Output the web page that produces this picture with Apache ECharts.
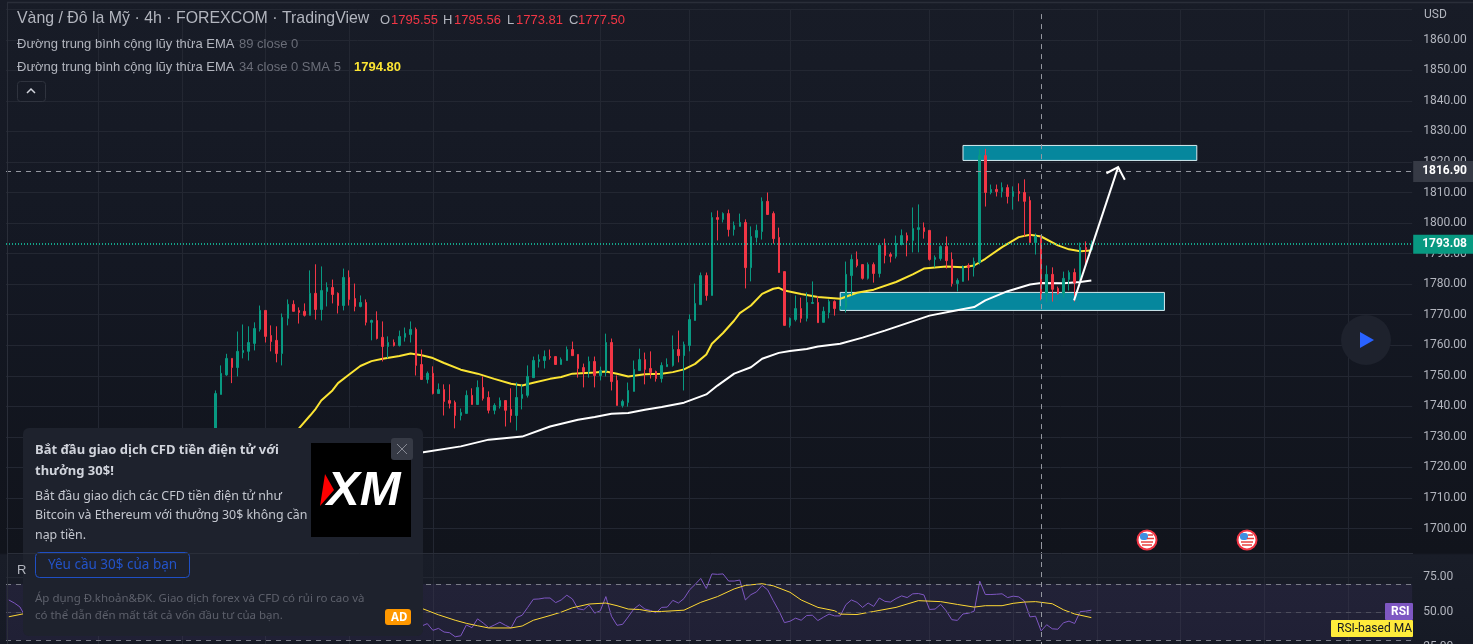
<!DOCTYPE html>
<html>
<head>
<meta charset="utf-8">
<title>Vàng / Đô la Mỹ</title>
<script src="https://cdn.jsdelivr.net/npm/echarts@6/dist/echarts.min.js"></script>
<style>
    html, body { margin: 0; padding: 0; overflow: hidden; }
    body { background: linear-gradient(180deg, #181c27 0, #141823 260px, #11141c 553px, #191d28 555px, #161a25 644px); }
    #chart { width: 1473px; height: 644px; }
</style>
</head>
<body>
<div id="chart"></div>
<script>
// bars hidden behind the ad popup, then one row per visible candle
const LEAD = 37;
const BAR_COUNT = 252;

// open, close, low, high
const candles = [
    [1732.1,1744.2,1727.0,1745.2],[1743.9,1750.8,1743.9,1753.4],[1750.3,1755.7,1750.0,1757.2],[1755.7,1752.7,1747.6,1755.7],
    [1752.7,1758.0,1749.8,1764.5],[1757.6,1758.3,1755.7,1766.8],[1758.0,1760.9,1755.0,1766.2],[1760.6,1765.5,1758.3,1767.5],
    [1765.2,1771.4,1764.5,1773.0],[1771.4,1762.9,1760.9,1771.4],[1763.2,1761.2,1758.0,1766.5],[1761.6,1757.3,1754.4,1766.2],
    [1757.3,1769.1,1753.4,1770.4],[1768.8,1773.4,1766.5,1775.0],[1773.4,1771.1,1771.1,1774.7],[1771.4,1770.7,1767.1,1772.4],
    [1771.1,1769.8,1769.4,1773.7],[1769.8,1777.0,1769.8,1784.5],[1777.0,1771.7,1768.4,1786.5],[1771.7,1777.9,1768.1,1785.8],
    [1777.6,1778.9,1772.7,1780.6],[1778.9,1776.6,1773.7,1781.5],[1777.0,1773.0,1770.4,1777.3],[1773.0,1782.2,1771.4,1785.1],
    [1782.2,1775.0,1773.0,1784.5],[1775.3,1772.7,1771.1,1780.2],[1772.7,1774.0,1772.4,1776.3],[1774.0,1767.5,1766.5,1775.0],
    [1767.5,1768.1,1761.6,1768.4],[1768.1,1762.2,1761.9,1771.1],[1762.6,1759.6,1754.7,1767.8],[1759.6,1760.9,1755.7,1762.9],
    [1760.9,1759.9,1759.6,1761.9],[1759.9,1762.9,1759.6,1764.8],[1762.6,1763.9,1761.2,1765.8],[1763.5,1765.2,1760.9,1767.8],
    [1765.2,1753.4,1750.1,1765.8],[1753.7,1748.8,1748.8,1758.6],[1748.8,1750.8,1747.5,1751.4],[1750.8,1744.2,1743.9,1753.1],
    [1744.2,1745.5,1744.2,1747.5],[1745.5,1741.6,1737.0,1747.2],[1741.9,1741.0,1739.3,1747.2],[1741.3,1737.0,1732.8,1741.9],
    [1737.0,1738.0,1735.4,1739.3],[1737.7,1743.6,1737.7,1745.2],[1743.6,1740.6,1740.6,1745.9],[1740.6,1746.2,1740.6,1748.5],
    [1746.2,1742.6,1741.9,1749.8],[1742.9,1738.7,1737.7,1744.9],[1738.7,1740.3,1737.4,1741.0],[1740.0,1741.9,1739.3,1742.9],
    [1741.9,1738.7,1733.4,1741.9],[1739.0,1737.0,1734.7,1745.9],[1737.0,1742.9,1732.1,1747.8],[1742.6,1743.9,1739.0,1747.2],
    [1743.6,1749.8,1742.9,1753.4],[1749.4,1755.0,1749.4,1756.3],[1754.7,1755.3,1752.7,1757.0],[1755.0,1756.3,1752.4,1758.3],
    [1756.3,1756.0,1755.3,1758.6],[1756.3,1753.7,1753.7,1756.3],[1753.7,1755.3,1753.7,1756.0],[1755.0,1758.6,1755.0,1759.6],
    [1758.6,1756.6,1756.6,1761.2],[1757.0,1752.4,1749.4,1757.0],[1752.7,1751.4,1746.2,1754.0],[1751.4,1754.7,1749.4,1756.3],
    [1754.7,1750.1,1746.2,1756.3],[1750.1,1751.7,1748.5,1753.0],[1751.4,1760.9,1749.8,1763.8],[1760.9,1748.1,1745.2,1762.2],
    [1748.5,1740.3,1740.3,1750.1],[1740.3,1741.6,1739.6,1742.2],[1741.3,1745.2,1739.9,1747.8],[1744.9,1752.1,1744.9,1755.0],
    [1751.7,1755.3,1751.7,1758.9],[1755.3,1752.1,1747.2,1757.6],[1752.4,1751.1,1749.1,1758.0],[1751.4,1749.1,1748.1,1751.7],
    [1749.1,1753.4,1747.8,1754.4],[1753.0,1753.7,1753.0,1755.7],[1753.4,1758.6,1753.0,1763.2],[1758.6,1756.6,1754.4,1764.8],
    [1756.6,1760.2,1745.2,1761.2],[1759.9,1768.4,1758.0,1770.1],[1768.1,1773.7,1768.1,1780.2],[1773.3,1782.8,1773.3,1783.8],
    [1782.8,1776.3,1774.6,1783.8],[1776.3,1801.8,1776.3,1803.5],[1801.8,1801.2,1794.3,1804.1],[1801.2,1803.1,1800.2,1803.5],
    [1803.1,1797.9,1795.6,1804.4],[1797.9,1799.2,1795.9,1800.5],[1798.9,1800.2,1798.9,1803.1],[1800.2,1785.4,1778.6,1801.2],
    [1785.4,1795.6,1780.9,1798.9],[1795.3,1797.6,1793.6,1799.5],[1797.2,1807.1,1794.6,1808.4],[1807.1,1802.8,1802.8,1810.0],
    [1803.1,1794.9,1793.3,1803.8],[1795.3,1783.8,1783.8,1798.5],[1784.1,1766.5,1766.5,1784.1],[1766.5,1768.8,1765.8,1769.1],
    [1768.4,1772.0,1767.8,1776.3],[1772.0,1768.8,1767.4,1775.6],[1768.8,1774.0,1767.8,1777.3],[1773.7,1774.0,1773.7,1780.9],
    [1774.0,1767.4,1767.4,1776.0],[1767.5,1771.1,1767.5,1772.6],[1770.7,1774.3,1768.8,1775.0],[1774.3,1772.0,1769.7,1774.7],
    [1771.8,1772.7,1771.4,1774.7],[1772.4,1783.2,1770.7,1787.4],[1782.8,1788.1,1776.3,1789.7],[1788.1,1786.1,1785.5,1790.7],
    [1786.4,1781.9,1781.5,1786.4],[1781.9,1786.4,1781.5,1787.1],[1786.4,1783.5,1780.5,1787.1],[1783.5,1792.7,1782.2,1792.7],
    [1792.7,1789.4,1786.8,1794.9],[1789.7,1789.1,1787.1,1790.4],[1789.1,1793.3,1788.4,1795.9],[1793.0,1795.9,1792.7,1797.9],
    [1795.9,1794.3,1789.1,1796.9],[1794.3,1798.2,1790.4,1805.1],[1797.9,1798.5,1790.4,1806.1],[1798.5,1797.2,1794.9,1800.2],
    [1797.6,1788.1,1787.7,1797.6],[1788.1,1788.7,1785.5,1789.4],[1788.4,1792.3,1787.7,1792.7],[1792.3,1787.7,1785.1,1795.6],
    [1788.1,1780.2,1779.2,1790.4],[1780.2,1781.2,1777.6,1781.9],[1780.9,1785.8,1780.9,1786.1],[1786.1,1785.5,1781.2,1786.8],
    [1785.5,1787.4,1782.5,1788.7],[1787.1,1822.1,1786.4,1824.3],[1822.1,1810.0,1805.4,1824.3],[1810.0,1811.0,1809.4,1812.6],
    [1811.0,1810.3,1808.7,1812.6],[1810.3,1811.6,1808.4,1813.3],[1811.6,1808.7,1806.4,1812.6],[1808.7,1810.3,1804.4,1812.0],
    [1810.3,1809.7,1807.1,1813.0],[1810.0,1807.1,1795.6,1814.3],[1807.4,1793.6,1793.6,1808.7],[1793.6,1795.6,1789.7,1796.6],
    [1795.6,1776.9,1774.7,1795.6],[1776.9,1783.2,1774.0,1786.1],[1783.2,1778.3,1774.3,1785.5],[1778.6,1776.9,1776.6,1779.2],
    [1776.9,1781.9,1775.6,1784.1],[1781.5,1783.8,1777.9,1784.5],[1783.8,1780.5,1774.3,1785.1],[1780.5,1792.0,1780.5,1793.6],
    [1792.0,1791.3,1786.4,1794.0],[1791.3,1793.08,1791.0,1794.3]
];

// [candle number, price]
const ema34 = [
    [15,1732.8],[17,1737.0],[18,1739.2],[19,1741.9],[21,1745.2],[22,1747.6],[24,1750.4],[26,1753.2],[28,1754.8],[30,1755.6],
    [33,1756.5],[35,1757.3],[37,1756.7],[39,1755.8],[41,1754.2],[44,1752.0],[47,1750.7],[50,1749.0],[53,1747.4],[55,1746.8],
    [57,1747.7],[60,1749.0],[62,1749.6],[64,1750.7],[68,1751.1],[70,1751.4],[72,1750.7],[74,1749.8],[77,1750.5],[80,1750.7],
    [82,1751.2],[84,1752.1],[86,1753.9],[88,1757.0],[89,1760.5],[91,1764.0],[93,1768.1],[94,1770.5],[96,1773.0],[98,1776.8],
    [100,1778.5],[101,1778.8],[102,1777.9],[105,1776.8],[108,1775.8],[112,1775.2],[115,1777.2],[118,1778.2],[122,1780.7],
    [125,1783.2],[127,1785.1],[131,1785.8],[134,1785.5],[136,1786.1],[138,1788.3],[141,1792.1],[144,1795.4],[146,1796.2],
    [148,1795.6],[151,1792.7],[153,1791.4],[155,1790.8],[157,1791.0]
];
const ema89 = [
    [37,1724.9],[44,1726.9],[49,1729.1],[55,1730.1],[60,1733.4],[65,1735.6],[68,1736.5],[71,1737.6],[74,1737.8],[77,1738.9],
    [80,1739.8],[84,1741.2],[88,1743.9],[90,1746.8],[93,1750.7],[96,1752.8],[98,1755.6],[101,1757.5],[103,1758.1],[106,1758.8],
    [108,1759.6],[112,1760.5],[116,1762.5],[120,1764.8],[128,1769.7],[132,1771.1],[136,1772.5],[138,1774.7],[142,1777.7],
    [146,1779.9],[148,1780.4],[152,1780.3],[155,1780.7],[157,1781.2]
];

// RSI starts again at candle 37, the first bar to the right of the popup
const rsiFirst = 37;
const rsiValues = [
    40.0,41.7,36.9,38.3,35.7,35.2,32.3,33.0,40.7,38.8,45.1,42.2,38.8,40.7,42.7,40.5,38.6,46.0,47.7,53.3,
    59.1,59.3,60.0,60.0,56.7,58.6,62.0,59.3,52.3,51.6,55.0,49.2,50.9,61.0,47.0,40.5,41.2,46.5,52.1,55.2,
    52.1,51.1,49.4,53.3,53.5,58.3,56.4,59.6,65.8,69.7,74.0,66.8,77.2,76.9,77.2,72.1,72.1,72.8,58.6,62.4,
    64.4,69.0,65.8,58.1,50.9,42.4,43.4,45.6,44.1,47.5,47.7,43.9,46.3,48.5,47.2,47.2,55.2,58.6,56.9,53.3,
    56.4,54.0,60.0,57.6,57.1,59.6,61.5,60.3,63.0,63.2,62.2,51.8,52.1,55.5,50.8,44.5,44.0,48.6,49.1,50.6,
    72.0,62.5,62.5,62.7,63.0,60.3,61.3,60.8,57.9,46.5,47.0,36.5,40.9,38.0,37.7,42.3,43.5,41.8,50.3,50.6,51.3
];
const rsiLeft = [58.6, 56.4, 53.6, 46.4];
const rsiMa = [
    [37,52.6],[40,48.0],[43,44.1],[45,41.9],[47,40.2],[49,38.6],[53,38.6],[55,40.0],[57,44.1],[60,47.5],[62,49.9],[64,53.0],
    [67,55.7],[70,56.4],[72,54.5],[74,52.1],[76,51.8],[78,50.4],[80,50.4],[84,51.3],[87,56.9],[90,61.0],[93,66.5],[95,69.0],
    [98,70.2],[100,68.7],[103,64.1],[105,58.6],[108,53.3],[111,50.9],[112,48.5],[115,48.2],[118,50.4],[122,53.3],[126,58.1],
    [130,57.4],[133,55.4],[136,53.5],[138,54.5],[141,54.5],[143,56.2],[145,57.1],[147,57.4],[150,55.9],[152,51.6],[154,48.6],[157,46.0]
];
const rsiMaLeft = [[-37,46.6],[-34,49.0]];

// drawn zones: first candle, last candle, low price, high price
const zones = [
    [134.0, 175.9, 1820.5, 1825.4],
    [112.0, 170.1, 1771.4, 1777.3]
];
// hand drawn arrow: [candle, price]
const arrowShaft = [[153.9,1774.7],[161.8,1818.3]];
const arrowHead = [[159.7,1816.3],[161.8,1818.3],[163.0,1814.2]];

const crosshairBar = 148;
const crosshairPrice = 1816.9;
const lastPrice = 1793.08;
// bars that carry a vertical grid line
const gridBars = [16,31,46,61,76,106,122,140,165,180,195,210,225,240];

const UP = '#089981';
const DOWN = '#f23645';
const GRID = '#232732';
const AXIS_TEXT = '#b2b5be';
const FONT = 'Roboto, sans-serif';

const categories = Array.from({ length: BAR_COUNT }, (_, i) => String(i));
const shift = rows => rows.map(r => [r[0] + LEAD, r[1]]);

const rsiSeriesData = new Array(BAR_COUNT).fill('-');
rsiLeft.forEach((v, i) => { rsiSeriesData[i] = v; });
rsiValues.forEach((v, i) => { rsiSeriesData[LEAD + rsiFirst + i] = v; });

// category axes round to a whole bar, so the fraction is added here
function barPoint(api, bar, price) {
    const whole = Math.floor(bar);
    const p = api.coord([whole + LEAD, price]);
    return [p[0] + (bar - whole) * api.size([1, 0])[0], p[1]];
}

const xAxisBase = {
    type: 'category',
    data: categories,
    boundaryGap: true,
    axisLine: { show: false },
    axisTick: { show: false },
    axisLabel: { show: false },
    splitLine: {
        show: true,
        alignWithLabel: true,
        interval: idx => gridBars.indexOf(idx) >= 0,
        lineStyle: { color: GRID, width: 1 }
    }
};

const option = {
    animation: false,
    backgroundColor: 'transparent',
    textStyle: { fontFamily: FONT },
    grid: [
        { left: 6, width: 1406.2, top: 9.2, height: 549.9, outerBoundsMode: 'none' },
        { left: 6, width: 1406.2, top: 542, height: 105, outerBoundsMode: 'none' }
    ],
    xAxis: [
        Object.assign({}, xAxisBase, { gridIndex: 0 }),
        Object.assign({}, xAxisBase, { gridIndex: 1 })
    ],
    yAxis: [
        {
            gridIndex: 0, position: 'right', min: 1690, max: 1870, interval: 10, scale: true,
            axisLine: { show: false }, axisTick: { show: false },
            axisLabel: {
                color: AXIS_TEXT, fontSize: 12, margin: 11,
                showMinLabel: false, showMaxLabel: false,
                formatter: v => v.toFixed(2)
            },
            splitLine: { show: true, showMinLine: false, lineStyle: { color: GRID, width: 1 } }
        },
        {
            gridIndex: 1, position: 'right', min: 25, max: 100, interval: 25,
            axisLine: { show: false }, axisTick: { show: false },
            axisLabel: {
                color: AXIS_TEXT, fontSize: 12, margin: 11, showMaxLabel: false,
                formatter: v => v.toFixed(2)
            },
            splitLine: { show: true, showMaxLine: false, lineStyle: { color: GRID, width: 1 } }
        }
    ],
    series: [
        {
            // crosshair and price tags
            type: 'line', xAxisIndex: 0, yAxisIndex: 0, z: 1, data: [],
            markLine: {
                silent: true, symbol: 'none', animation: false,
                data: [
                    {
                        xAxis: crosshairBar + LEAD,
                        lineStyle: { color: '#9598a1', type: [5, 5], width: 1 },
                        label: { show: false }
                    },
                    {
                        yAxis: crosshairPrice,
                        lineStyle: { color: '#9598a1', type: [5, 5], width: 1 },
                        label: {
                            position: 'end', distance: 1, formatter: crosshairPrice.toFixed(2),
                            color: '#fff', fontWeight: 'bold', fontSize: 12, fontFamily: FONT,
                            backgroundColor: '#363a45', padding: [5, 8, 4, 9]
                        }
                    },
                    {
                        yAxis: lastPrice,
                        lineStyle: { color: '#14d1aa', type: [1, 2], width: 1.5 },
                        label: {
                            position: 'end', distance: 1, formatter: lastPrice.toFixed(2),
                            color: '#fff', fontWeight: 'bold', fontSize: 12, fontFamily: FONT,
                            backgroundColor: UP, padding: [4, 8, 3, 9]
                        }
                    }
                ]
            }
        },
        {
            type: 'custom', xAxisIndex: 0, yAxisIndex: 0, z: 2, clip: false, silent: true,
            data: zones.map((z, i) => [i]),
            renderItem: (params, api) => {
                const z = zones[params.dataIndex];
                const a = barPoint(api, z[0], z[3]);
                const b = barPoint(api, z[1], z[2]);
                return {
                    type: 'rect',
                    shape: { x: a[0], y: a[1], width: b[0] - a[0], height: b[1] - a[1] },
                    style: { fill: '#06879d', stroke: '#d5ecf0', lineWidth: 1 }
                };
            }
        },
        {
            name: 'EMA 89', type: 'line', xAxisIndex: 0, yAxisIndex: 0, z: 3, data: shift(ema89),
            showSymbol: false, lineStyle: { color: '#ffffff', width: 2 }
        },
        {
            name: 'EMA 34', type: 'line', xAxisIndex: 0, yAxisIndex: 0, z: 3, data: shift(ema34),
            showSymbol: false, lineStyle: { color: '#fbe433', width: 2 }
        },
        {
            type: 'candlestick', xAxisIndex: 0, yAxisIndex: 0, z: 4, barWidth: 2,
            data: new Array(LEAD).fill(['-', '-', '-', '-']).concat(candles),
            itemStyle: { color: UP, color0: DOWN, borderColor: UP, borderColor0: DOWN, borderWidth: 1 }
        },
        {
            type: 'custom', xAxisIndex: 0, yAxisIndex: 0, z: 5, clip: false, silent: true,
            data: [[0]],
            renderItem: (params, api) => ({
                type: 'group',
                children: [arrowShaft, arrowHead].map(points => ({
                    type: 'polyline',
                    shape: { points: points.map(p => barPoint(api, p[0], p[1])) },
                    style: { stroke: '#ffffff', lineWidth: 2, fill: null }
                }))
            })
        },
        {
            name: 'RSI', type: 'line', xAxisIndex: 1, yAxisIndex: 1, z: 3, data: rsiSeriesData,
            showSymbol: false, connectNulls: false, lineStyle: { color: '#7e57c2', width: 1 },
            markArea: {
                silent: true,
                itemStyle: { color: 'rgba(126,87,194,0.1)' },
                data: [[{ yAxis: 70 }, { yAxis: 30 }]]
            },
            markLine: {
                silent: true, symbol: 'none', animation: false,
                label: { show: false },
                data: [
                    { yAxis: 70, lineStyle: { color: '#787b86', type: [5, 5], width: 1 } },
                    { yAxis: 50, lineStyle: { color: '#4c4d5c', type: [5, 5], width: 1 } },
                    { yAxis: 30, lineStyle: { color: '#787b86', type: [5, 5], width: 1 } },
                    { xAxis: crosshairBar + LEAD, lineStyle: { color: '#9598a1', type: [5, 5], width: 1 } }
                ]
            }
        },
        {
            name: 'RSI-based MA', type: 'line', xAxisIndex: 1, yAxisIndex: 1, z: 3, data: shift(rsiMa),
            showSymbol: false, lineStyle: { color: '#fdd835', width: 1 }
        },
        {
            name: 'RSI-based MA left', type: 'line', xAxisIndex: 1, yAxisIndex: 1, z: 3, data: shift(rsiMaLeft),
            showSymbol: false, lineStyle: { color: '#fdd835', width: 1 }
        }
    ],
    graphic: { elements: buildChrome() }
};

// everything that is TradingView page furniture, not chart marks
function buildChrome() {
    const SANS = '"Noto Sans", sans-serif';
    const ARIAL = '"Liberation Sans", Arial, sans-serif';
    const text = (x, y, str, fill, size, family, weight, extra) => ({
        type: 'text', x: x, y: y, z: 100,
        style: Object.assign({
            text: str, fill: fill, fontSize: size, fontFamily: family || ARIAL,
            fontWeight: weight || 'normal', textVerticalAlign: 'middle'
        }, extra || {})
    });
    const rect = (x, y, w, h, r, fill, stroke) => ({
        type: 'rect', z: 99,
        shape: { x: x, y: y, width: w, height: h, r: r },
        style: { fill: fill, stroke: stroke || null, lineWidth: 1 }
    });
    const line = (x1, y1, x2, y2, stroke, w) => ({
        type: 'line', z: 100,
        shape: { x1: x1, y1: y1, x2: x2, y2: y2 },
        style: { stroke: stroke, lineWidth: w || 1 }
    });

    const items = [
        line(7, 2.5, 1473, 2.5, '#2a2e39', 1.5),
        line(7.5, 2, 7.5, 644, '#2a2e39'),
        line(8, 553.5, 1413, 553.5, '#2a2e39'),

        // legend
        text(17, 19, 'Vàng / Đô la Mỹ · 4h · FOREXCOM · TradingView', '#b2b5be', 15.9),
        text(380, 20, 'O', '#b2b5be', 13),
        text(391, 20, '1795.55', DOWN, 13),
        text(443, 20, 'H', '#b2b5be', 13),
        text(454, 20, '1795.56', DOWN, 13),
        text(507, 20, 'L', '#b2b5be', 13),
        text(516, 20, '1773.81', DOWN, 13),
        text(569, 20, 'C', '#b2b5be', 13),
        text(578, 20, '1777.50', DOWN, 13),
        text(17, 44, 'Đường trung bình cộng lũy thừa EMA', '#b2b5be', 13),
        text(239, 44, '89 close 0', '#6a6d78', 13),
        text(17, 67, 'Đường trung bình cộng lũy thừa EMA', '#b2b5be', 13),
        text(239, 67, '34 close 0 SMA 5', '#6a6d78', 13),
        text(354, 67, '1794.80', '#fbe433', 13, ARIAL, 'bold'),
        rect(17.5, 81.5, 28, 20, 3, 'transparent', '#2f333e'),
        { type: 'polyline', z: 100, shape: { points: [[27, 93], [31, 89], [35, 93]] }, style: { stroke: '#d1d4dc', lineWidth: 1.5, fill: null } },
        text(1424, 15, 'USD', AXIS_TEXT, 12, FONT),

        // play button
        { type: 'circle', z: 99, shape: { cx: 1366, cy: 340, r: 25 }, style: { fill: '#1e222d' } },
        { type: 'polygon', z: 100, shape: { points: [[1360, 332], [1374, 340], [1360, 348]] }, style: { fill: '#2962ff' } },

        // RSI tags
        rect(1385, 603, 28, 17, 1, '#7e57c2'),
        text(1391, 611.5, 'RSI', '#ffffff', 12, FONT, 'bold'),
        rect(1331, 620, 82, 17, 1, '#ffeb3b'),
        text(1337, 628.5, 'RSI-based MA', '#131722', 12, FONT),
        text(17, 570, 'R', '#b2b5be', 13),

        // ad popup
        rect(23, 428, 400, 208, 6, '#1e222d'),
        text(35, 450, 'Bắt đầu giao dịch CFD tiền điện tử với', '#d1d4dc', 13, SANS, 'bold'),
        text(35, 471, 'thưởng 30$!', '#d1d4dc', 13, SANS, 'bold'),
        text(35, 496, 'Bắt đầu giao dịch các CFD tiền điện tử như', '#c4c7cf', 12.4, SANS),
        text(35, 515, 'Bitcoin và Ethereum với thưởng 30$ không cần', '#c4c7cf', 12.4, SANS),
        text(35, 535, 'nạp tiền.', '#c4c7cf', 12.4, SANS),
        rect(35.5, 552.5, 154, 25, 4, 'transparent', '#1f4fc4'),
        text(48, 565, 'Yêu cầu 30$ của bạn', '#2353c9', 13.5, SANS),
        text(35, 599, 'Áp dụng Đ.khoản&ĐK. Giao dịch forex và CFD có rủi ro cao và', '#5d606b', 11.5, SANS),
        text(35, 616, 'có thể dẫn đến mất tất cả vốn đầu tư của bạn.', '#5d606b', 11.5, SANS),
        rect(385, 609, 26, 16, 3, '#ff9800'),
        text(391, 617.5, 'AD', '#ffffff', 11.5, SANS, 'bold'),
        rect(311, 443, 100, 94, 0, '#000000'),
        { type: 'polygon', z: 100, shape: { points: [[325, 474], [334, 490], [320, 506]] }, style: { fill: '#ff0000' } },
        text(327, 491, 'XM', '#ffffff', 49, ARIAL, 'bold', { fontStyle: 'italic' }),
        rect(391, 438, 22, 22, 3, '#363a45'),
        line(397, 444, 407, 454, '#868993'),
        line(407, 444, 397, 454, '#868993')
    ];

    // economic calendar flags
    [1147, 1247].forEach(x => {
        const y = 540;
        items.push({ type: 'circle', z: 99, shape: { cx: x, cy: y, r: 9.5 }, style: { fill: '#ffffff', stroke: DOWN, lineWidth: 2 } });
        items.push(line(x - 6, y + 2, x + 6, y + 2, '#e8413f', 1.5));
        items.push(line(x - 5, y + 5, x + 5, y + 5, '#e8413f', 1.5));
        items.push(line(x, y - 1.5, x + 7, y - 1.5, '#e8413f', 1.5));
        items.push(line(x + 1, y - 5, x + 6, y - 5, '#e8413f', 1.5));
        items.push(rect(x - 7, y - 7, 8, 7, 3, '#3f8fe0'));
    });
    return items;
}

const chart = echarts.init(document.getElementById('chart'));
chart.setOption(option);
</script>
</body>
</html>
